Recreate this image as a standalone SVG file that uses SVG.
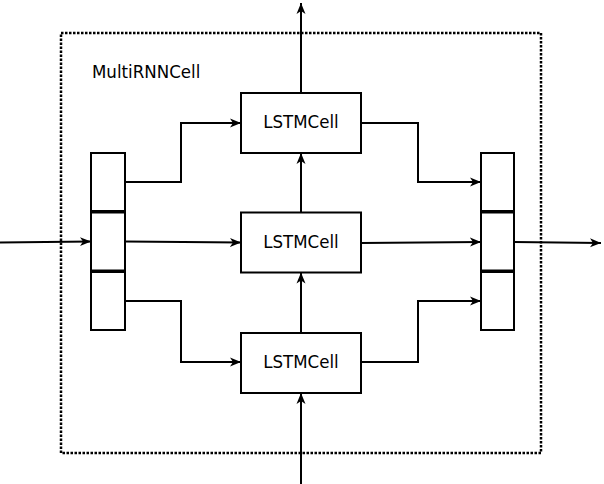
<svg xmlns="http://www.w3.org/2000/svg" width="604" height="484" viewBox="0 0 604 484">
<style>
.box{fill:#fff;stroke:#000;stroke-width:2}
.edge{fill:none;stroke:#000;stroke-width:2;marker-end:url(#arr)}
.lbl{font-family:"DejaVu Sans Condensed","DejaVu Sans",sans-serif;font-stretch:condensed;font-size:18.5px;fill:#000}
</style>
<defs>
<marker id="arr" markerUnits="userSpaceOnUse" markerWidth="12" markerHeight="10" refX="11" refY="5" orient="auto">
<path d="M0,0.5 L11,5 L0,9.5 L3,5 Z" fill="#000"/>
</marker>
</defs>
<rect x="61" y="33" width="480" height="420" fill="none" stroke="#000" stroke-width="2.5" stroke-dasharray="2.5 1.5"/>
<text class="lbl" x="92" y="78">MultiRNNCell</text>
<g id="stack-left">
<rect class="box" x="91" y="153" width="34" height="58"/>
<rect class="box" x="91" y="212.5" width="34" height="58"/>
<rect class="box" x="91" y="272" width="34" height="58"/>
</g>
<g id="stack-right">
<rect class="box" x="481" y="153" width="33" height="58"/>
<rect class="box" x="481" y="212.5" width="33" height="58"/>
<rect class="box" x="481" y="272" width="33" height="58"/>
</g>
<g id="lstm-top">
<rect class="box" x="241" y="93" width="120" height="60"/>
<text class="lbl" x="301" y="128" text-anchor="middle">LSTMCell</text>
</g>
<g id="lstm-mid">
<rect class="box" x="241" y="212.5" width="120" height="60"/>
<text class="lbl" x="301" y="248" text-anchor="middle">LSTMCell</text>
</g>
<g id="lstm-bot">
<rect class="box" x="241" y="333" width="120" height="60"/>
<text class="lbl" x="301" y="368" text-anchor="middle">LSTMCell</text>
</g>
<g id="connectors">
<path class="edge" d="M301,93 L301,3"/>
<path class="edge" d="M301,212.5 L301,153"/>
<path class="edge" d="M301,333 L301,272.5"/>
<path class="edge" d="M301,484 L301,393"/>
<path class="edge" d="M0,242.5 L91,241.5"/>
<path class="edge" d="M125,182 H181 V123 H241"/>
<path class="edge" d="M125,241.5 L241,242.5"/>
<path class="edge" d="M125,301 H181 V362 H241"/>
<path class="edge" d="M361,123 H418 V182 H481"/>
<path class="edge" d="M361,243 L481,242"/>
<path class="edge" d="M361,362 H418 V301 H481"/>
<path class="edge" d="M514,242 L601,243"/>
</g>
</svg>
